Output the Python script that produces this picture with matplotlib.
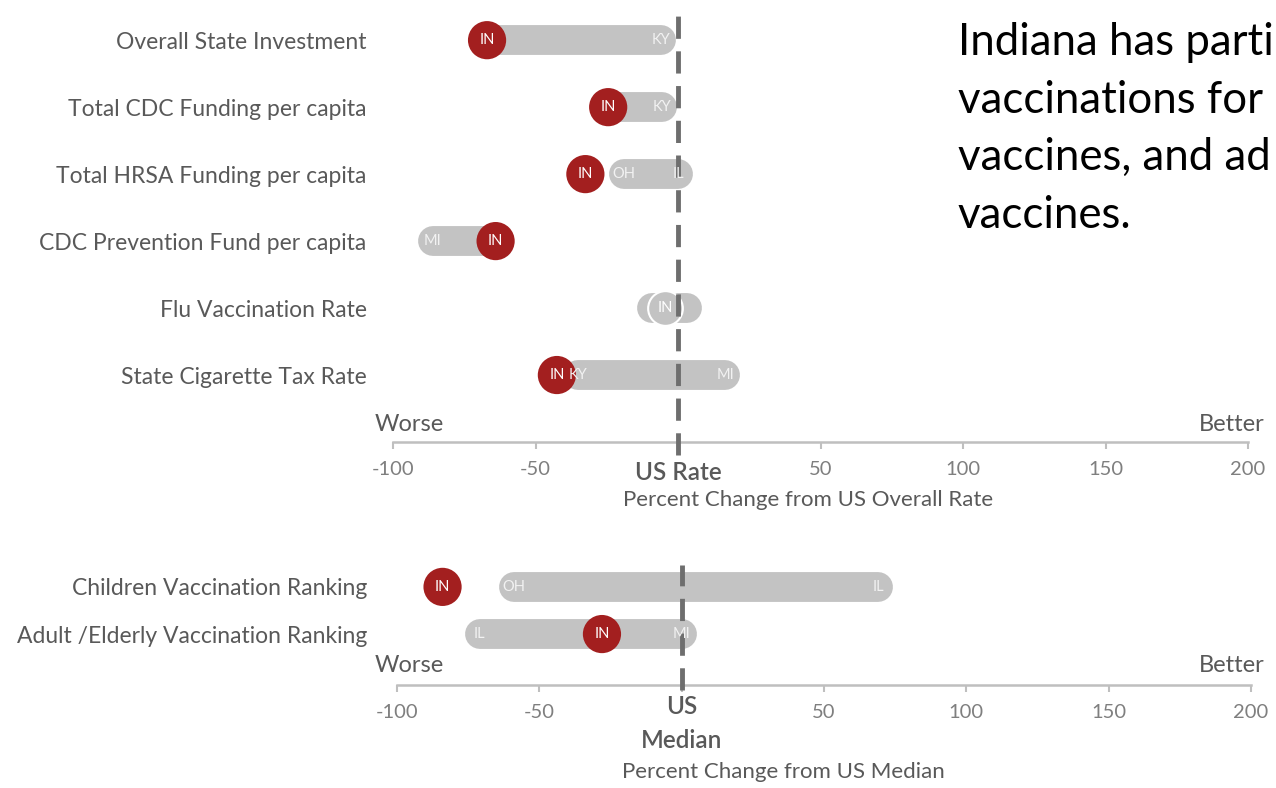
import matplotlib
matplotlib.use("Agg")
import matplotlib.pyplot as plt
import matplotlib.transforms as mtransforms

plt.rcParams['font.family'] = ['Lato', 'DejaVu Sans']
plt.rcParams['lines.scale_dashes'] = False

# ---------------- data ----------------
top_categories = ["Overall State Investment", "Total CDC Funding per capita",
                  "Total HRSA Funding per capita", "CDC Prevention Fund per capita",
                  "Flu Vaccination Rate", "State Cigarette Tax Rate"]
top_in = [-67, -24.5, -32.5, -64, -4.5, -42.5]
top_lo = [-67, -24.5, -19, -86, -9, -35]
top_hi = [-6, -5.5, 0, -64, 3, 16.5]
top_lo_label = ["", "", "OH", "MI", "", "KY"]
top_hi_label = ["KY", "KY", "IL", "", "", "MI"]
top_in_highlight = [True, True, True, True, False, True]

bot_categories = ["Children Vaccination Ranking", "Adult /Elderly Vaccination Ranking"]
bot_in = [-84, -28]
bot_lo = [-59, -71]
bot_hi = [69, 0]
bot_lo_label = ["OH", "IL"]
bot_hi_label = ["IL", "MI"]
bot_in_highlight = [True, True]

xticks = [-100, -50, 0, 50, 100, 150, 200]
top_ticklabels = ["-100", "-50", "US Rate", "50", "100", "150", "200"]
bot_ticklabels = ["-100", "-50", "US\nMedian", "50", "100", "150", "200"]

side_text = ["Indiana has parti", "vaccinations for", "vaccines, and ad", "vaccines."]

# ---------------- style ----------------
RED = "#A31F1F"
BAR = "#C3C3C3"
DARK = "#595959"
TICKC = "#7F7F7F"
W, H = 1276, 788

fig = plt.figure(figsize=(W / 100, H / 100), dpi=100)


def px_axes(l, r, top, bottom):
    return fig.add_axes([l / W, 1 - bottom / H, (r - l) / W, (bottom - top) / H])


def draw_panel(ax, cats, vin, lo, hi, lolab, hilab, hl, ticklabels, xlabel, ylim, ypad):
    n = len(cats)
    ys = list(range(n - 1, -1, -1))
    for y, a, b in zip(ys, lo, hi):
        ax.plot([a, b], [y, y], color=BAR, lw=21.5, solid_capstyle="round", zorder=2)
    for y, v, h in zip(ys, vin, hl):
        if h:
            ax.scatter([v], [y], s=27.5 ** 2, color=RED, edgecolors="none", zorder=4)
        else:
            ax.scatter([v], [y], s=25 ** 2, color=BAR, edgecolors="white", linewidths=1.5, zorder=4)
        ax.text(v, y, "IN", color="white", fontsize=10.5, ha="center", va="center", zorder=6)
    for y, a, b, la, lb in zip(ys, lo, hi, lolab, hilab):
        if la:
            ax.text(a, y, la, color="#F2F2F2", fontsize=10.5, ha="center", va="center", zorder=6)
        if lb:
            ax.text(b, y, lb, color="#F2F2F2", fontsize=10.5, ha="center", va="center", zorder=6)
    ax.set_xlim(-100, 200)
    ax.set_ylim(*ylim)
    ax.set_yticks(ys)
    ax.set_yticklabels(cats, fontsize=16.5, color=DARK)
    ax.tick_params(axis="y", length=0, pad=ypad)
    ax.set_xticks(xticks)
    ax.set_xticklabels(ticklabels)
    ax.tick_params(axis="x", colors="#BFBFBF", length=5, width=1.5, pad=9, labelsize=14.5,
                   labelcolor=TICKC)
    for lab in ax.get_xticklabels():
        if lab.get_text().startswith("US"):
            lab.set_fontsize(17.5)
            lab.set_color(DARK)
            lab.set_fontweight("semibold")
    for s in ["top", "right", "left"]:
        ax.spines[s].set_visible(False)
    ax.spines["bottom"].set_color("#BFBFBF")
    ax.spines["bottom"].set_linewidth(1.8)
    ax.set_xlabel(xlabel, fontsize=16, color=DARK)
    ax.patch.set_alpha(0)


# top panel
ax1 = px_axes(393, 1248, 0, 442)
draw_panel(ax1, top_categories, top_in, top_lo, top_hi, top_lo_label, top_hi_label,
           top_in_highlight, top_ticklabels, "Percent Change from US Overall Rate", (-1.0, 5.6), 19)
ax1.axvline(0, ymin=-0.03, ymax=0.982, color="#6E6E6E", lw=3.5, dashes=(16, 9),
            clip_on=False, zorder=5)
ax1.xaxis.set_label_coords(0.485, -0.108)
ax1.text(-0.021, 0.04, "Worse", transform=ax1.transAxes, fontsize=17, color=DARK,
         ha="left", va="center")
ax1.text(1.02, 0.04, "Better", transform=ax1.transAxes, fontsize=17, color=DARK,
         ha="right", va="center")

# bottom panel
ax2 = px_axes(397, 1251, 560, 685)
draw_panel(ax2, bot_categories, bot_in, bot_lo, bot_hi, bot_lo_label, bot_hi_label,
           bot_in_highlight, bot_ticklabels, "Percent Change from US Median", (-1.08, 1.57), 21)
ax2.axvline(0, ymin=-0.04, ymax=0.96, color="#6E6E6E", lw=3.5, dashes=(16, 9),
            clip_on=False, zorder=5)
shift_up = mtransforms.ScaledTranslation(0, 0.09, fig.dpi_scale_trans)
for lab in ax2.get_xticklabels():
    if lab.get_text().startswith("US"):
        lab.set_linespacing(1.55)
        lab.set_transform(lab.get_transform() + shift_up)
ax2.xaxis.set_label_coords(0.453, -0.62)
ax2.text(-0.026, 0.16, "Worse", transform=ax2.transAxes, fontsize=17, color=DARK,
         ha="left", va="center")
ax2.text(1.016, 0.16, "Better", transform=ax2.transAxes, fontsize=17, color=DARK,
         ha="right", va="center")

# side text, one line per baseline
baselines = [55, 113, 170, 228]
for line, b in zip(side_text, baselines):
    fig.text(958 / W, 1 - b / H, line, fontsize=31.5, color="black",
             ha="left", va="baseline")

fig.savefig("out.png", dpi=100)
